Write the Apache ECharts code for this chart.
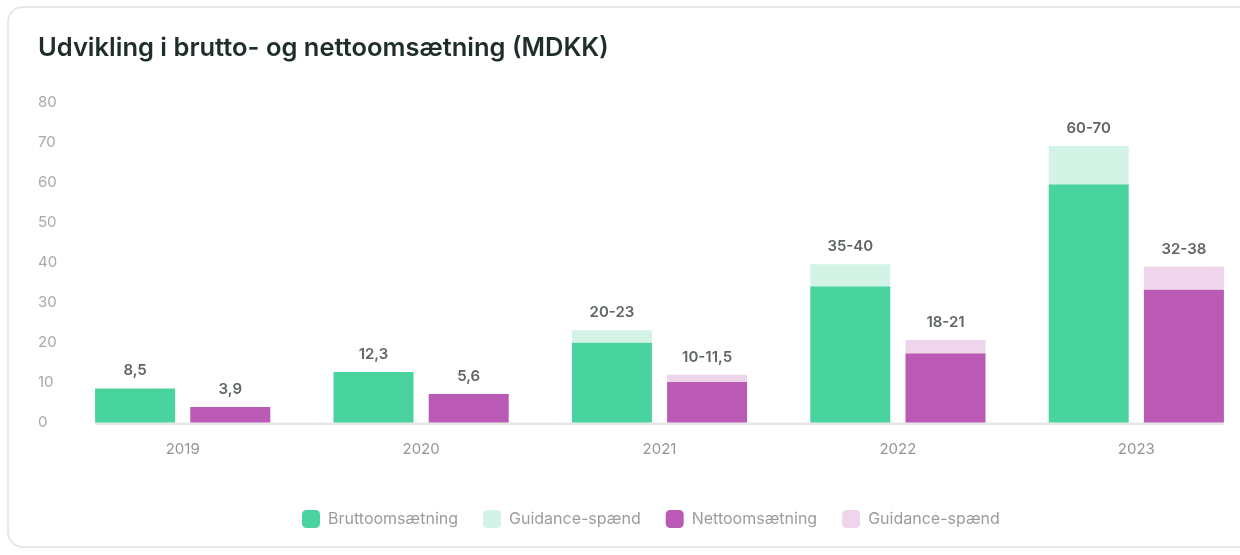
<!DOCTYPE html>
<html>
<head>
<meta charset="utf-8">
<script src="https://cdn.jsdelivr.net/npm/echarts@6/dist/echarts.min.js"></script>
<style>
	html, body { margin: 0; padding: 0; background: #fff; overflow: hidden; }
	#card {
		position: absolute; left: 7px; top: 6px; width: 1280px; height: 542px;
		border: 2px solid #e6e8e7; border-radius: 16px; box-sizing: border-box;
	}
	#omsaetning { position: absolute; left: 0; top: 0; width: 1240px; height: 555px; }
</style>
</head>
<body>
<div id="card"></div>
<div id="omsaetning"></div>
<script>
var years = ['2019', '2020', '2021', '2022', '2023'];

// solid part and guidance span on top (MDKK)
var brutto = [8.5, 12.6, 20, 34, 59.5];
var bruttoSpan = [0, 0, 3, 5.5, 9.5];
var netto = [3.9, 7.1, 10.2, 17.3, 33.2];
var nettoSpan = [0, 0, 1.7, 3.3, 5.7];

var bruttoLabels = ['8,5', '12,3', '20-23', '35-40', '60-70'];
var nettoLabels = ['3,9', '5,6', '10-11,5', '18-21', '32-38'];

var yTicks = [0, 10, 20, 30, 40, 50, 60, 70, 80];

var dom = document.getElementById("omsaetning");
var myChart = echarts.init(dom);
var option = null;

var font = 'Inter, "Noto Sans", sans-serif';

var valueLabel = function (labels) {
	return {
		show: true,
		position: 'top',
		distance: 10,
		fontFamily: font,
		fontSize: 15,
		fontWeight: 600,
		color: '#5f6663',
		formatter: function (p) {
			return labels[p.dataIndex];
		}
	};
};

option = {
	animation: false,
	textStyle: {
		fontFamily: font
	},
	title: {
		text: 'Udvikling i brutto- og nettoomsætning (MDKK)',
		left: 33,
		top: 30,
		textStyle: {
			fontFamily: font,
			fontSize: 25.5,
			fontWeight: 600,
			color: '#1f2e29'
		}
	},
	legend: {
		left: 297,
		top: 505,
		itemWidth: 18,
		itemHeight: 18,
		itemGap: 25,
		icon: 'roundRect',
		textStyle: {
			fontFamily: font,
			fontSize: 16,
			color: '#9a9d9b',
			padding: [0, 0, 0, 3]
		},
		data: ['Bruttoomsætning', 'Guidance-spænd', 'Nettoomsætning', 'Guidance-spænd\u200b']
	},
	grid: {
		left: 63.5,
		width: 1192,
		top: 102,
		bottom: 132.5,
		outerBoundsMode: 'none'
	},
	xAxis: {
		type: 'category',
		data: years,
		axisLine: { show: false },
		axisTick: { show: false },
		axisLabel: {
			margin: 19,
			fontFamily: font,
			fontSize: 15,
			color: '#929694'
		}
	},
	yAxis: {
		type: 'value',
		min: yTicks[0],
		max: yTicks[yTicks.length - 1],
		interval: 10,
		splitLine: { show: false },
		axisLine: { show: false },
		axisTick: { show: false },
		axisLabel: {
			align: 'left',
			margin: 25.5,
			fontFamily: font,
			fontSize: 15,
			color: '#a6a9a7'
		}
	},
	graphic: [{
		type: 'rect',
		left: 95,
		top: 422.5,
		shape: { width: 1129, height: 2.5 },
		style: { fill: '#e5e7e6' },
		z: 1
	}],
	series: [{
		name: 'Bruttoomsætning',
		type: 'bar',
		stack: 'brutto',
		barWidth: 80,
		barGap: '19%',
		itemStyle: { color: '#49d39e' },
		data: brutto
	}, {
		name: 'Guidance-spænd',
		type: 'bar',
		stack: 'brutto',
		barWidth: 80,
		itemStyle: { color: '#d2f3e5' },
		label: valueLabel(bruttoLabels),
		data: bruttoSpan
	}, {
		name: 'Nettoomsætning',
		type: 'bar',
		stack: 'netto',
		barWidth: 80,
		barGap: '19%',
		itemStyle: { color: '#ba5ab4' },
		data: netto
	}, {
		name: 'Guidance-spænd\u200b',
		type: 'bar',
		stack: 'netto',
		barWidth: 80,
		itemStyle: { color: '#eed5eb' },
		label: valueLabel(nettoLabels),
		data: nettoSpan
	}]
};
if (option && typeof option === "object") {
	myChart.setOption(option, true);
}
</script>
</body>
</html>
